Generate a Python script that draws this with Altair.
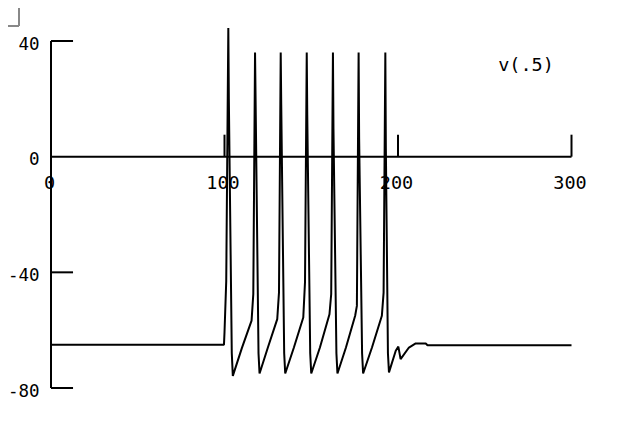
import altair as alt
import pandas as pd

# Voltage trace v(.5) (t in ms, v in mV)
t = [0, 99.7, 100, 101,
     102.2, 102.5, 104.2, 104.8, 110, 115.6, 116.6,
     117.6, 117.9, 119.6, 120.2, 125, 130.4, 131.4,
     132.4, 132.7, 134.4, 135.0, 140, 145.4, 146.4,
     147.4, 147.7, 149.4, 150.0, 155, 160.5, 161.5,
     162.5, 162.8, 164.5, 165.1, 170, 175.3, 176.3,
     177.3, 177.6, 179.3, 179.9, 185, 190.7, 191.7,
     192.7, 193.0, 194.2, 194.8,
     198.7, 200.2, 201.5, 206.3, 210.2, 216, 217, 300]
v = [-65, -65, -60.8, -43,
     44.5, 20, -68, -75.8, -66.2, -56.7, -47.5,
     36, 20.8, -68, -75, -66, -56.2, -47,
     36, 18, -68, -75, -66, -55.6, -43.4,
     36, 14.5, -68, -75, -66, -54.5, -47.5,
     36, 9.8, -68, -75, -66, -55, -51.6,
     36, 6.3, -68, -75, -66, -55, -47,
     36, 2.9, -68, -74.6,
     -67.1, -65.7, -70, -66, -64.6, -64.6, -65.2, -65.2]

x_ticks = [100, 200, 300]
x_labels = ["0", "100", "200", "300"]
x_label_vals = [0, 100, 200, 300]
y_ticks = [40, -40, -80]
y_labels = ["40", "0", "-40", "-80"]
y_label_vals = [40, 0, -40, -80]
series_label = "v(.5)"

X_DOMAIN = [0, 300]
Y_DOMAIN = [-80, 40]
XTICK_LEN = 7.6    # in mV units (~22 px)
YTICK_LEN = 12.7   # in ms units (~22 px)
FONT = "DejaVu Sans Mono"

xs = alt.Scale(domain=X_DOMAIN, nice=False, zero=False)
ys = alt.Scale(domain=Y_DOMAIN, nice=False, zero=False)

trace = pd.DataFrame({"t": t, "v": v, "i": list(range(len(t)))})

y_axis = alt.Chart(pd.DataFrame({"x": [X_DOMAIN[0]], "y": [Y_DOMAIN[0]], "y2": [Y_DOMAIN[1]]})).mark_rule(
    color="black", strokeWidth=2
).encode(
    x=alt.X("x:Q", scale=xs, axis=None),
    y=alt.Y("y:Q", scale=ys, axis=None),
    y2="y2:Q",
)

x_axis = alt.Chart(pd.DataFrame({"x": [X_DOMAIN[0]], "x2": [X_DOMAIN[1]], "y": [0]})).mark_rule(
    color="black", strokeWidth=2
).encode(
    x=alt.X("x:Q", scale=xs, axis=None),
    x2="x2:Q",
    y=alt.Y("y:Q", scale=ys, axis=None),
)

xt_df = pd.DataFrame({"x": x_ticks, "y": [0] * len(x_ticks), "y2": [XTICK_LEN] * len(x_ticks)})
x_tick_marks = alt.Chart(xt_df).mark_rule(color="black", strokeWidth=2).encode(
    x=alt.X("x:Q", scale=xs, axis=None),
    y=alt.Y("y:Q", scale=ys, axis=None),
    y2="y2:Q",
)

yt_df = pd.DataFrame({"y": y_ticks, "x": [0] * len(y_ticks), "x2": [YTICK_LEN] * len(y_ticks)})
y_tick_marks = alt.Chart(yt_df).mark_rule(color="black", strokeWidth=2).encode(
    x=alt.X("x:Q", scale=xs, axis=None),
    x2="x2:Q",
    y=alt.Y("y:Q", scale=ys, axis=None),
)

yl_df = pd.DataFrame({"y": y_label_vals, "x": [0] * len(y_label_vals), "label": y_labels})
y_label_marks = alt.Chart(yl_df).mark_text(
    font=FONT, fontSize=17.5, color="black", align="right", baseline="middle", dx=-11.5, dy=3.5
).encode(
    x=alt.X("x:Q", scale=xs, axis=None),
    y=alt.Y("y:Q", scale=ys, axis=None),
    text="label:N",
)

xl_df = pd.DataFrame({"x": x_label_vals, "y": [0] * len(x_label_vals), "label": x_labels})
x_label_marks = alt.Chart(xl_df).mark_text(
    font=FONT, fontSize=18.5, color="black", align="center", baseline="middle", dx=-1.5, dy=26
).encode(
    x=alt.X("x:Q", scale=xs, axis=None),
    y=alt.Y("y:Q", scale=ys, axis=None),
    text="label:N",
)

name_df = pd.DataFrame({"x": [273.8], "y": [31.8], "label": [series_label]})
name_mark = alt.Chart(name_df).mark_text(
    font=FONT, fontSize=18.5, color="black", align="center", baseline="middle"
).encode(
    x=alt.X("x:Q", scale=xs, axis=None),
    y=alt.Y("y:Q", scale=ys, axis=None),
    text="label:N",
)

line = alt.Chart(trace).mark_line(
    color="black", strokeWidth=2, strokeJoin="bevel", clip=False
).encode(
    x=alt.X("t:Q", scale=xs, axis=None),
    y=alt.Y("v:Q", scale=ys, axis=None),
    order="i:Q",
)

# small window-corner box of the original viewer (decoration)
box_v = alt.Chart(pd.DataFrame({"a": [0]})).mark_rule(color="#888888", strokeWidth=2).encode(
    x=alt.value(-32), y=alt.value(-33), y2=alt.value(-15)
)
box_h = alt.Chart(pd.DataFrame({"a": [0]})).mark_rule(color="#888888", strokeWidth=2).encode(
    x=alt.value(-43), x2=alt.value(-32), y=alt.value(-15)
)

chart = alt.layer(
    y_label_marks, x_label_marks, name_mark,
    y_axis, x_axis, x_tick_marks, y_tick_marks,
    line, box_v, box_h,
).properties(
    width=520.5,
    height=347,
    autosize=alt.AutoSizeParams(type="none"),
    padding={"left": 43, "top": 33, "right": 40, "bottom": 20},
    background="white",
).configure_view(stroke=None)

chart.save("out.html", embed_options={"renderer": "svg", "actions": False})
